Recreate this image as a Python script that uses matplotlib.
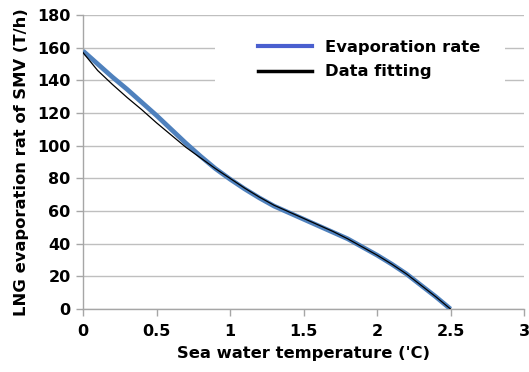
import matplotlib
matplotlib.use("Agg")
import matplotlib.pyplot as plt
from matplotlib.lines import Line2D
from matplotlib.patches import Rectangle

temperature = [0.0, 0.1, 0.2, 0.3, 0.4, 0.5, 0.6, 0.7, 0.8, 0.9, 1.0, 1.1, 1.2,
               1.3, 1.4, 1.5, 1.6, 1.7, 1.8, 1.9, 2.0, 2.1, 2.2, 2.3, 2.4, 2.5]
evaporation_rate = [158, 150, 142, 134.5, 126.5, 118.5, 110, 101.5, 93.5, 86, 79.5,
                    73.5, 68, 63, 59, 55, 51, 47, 43, 38, 33, 27.5, 21.5, 14.5, 7.5, 0]
data_fitting = [157, 146, 137.5, 129.5, 122, 114, 106.5, 99, 92.5, 86, 80,
                74, 68.5, 63.5, 59.5, 55.5, 51.5, 47.5, 43, 38, 33, 27.5, 21.5, 14.5, 7.5, 0]
x_ticks = [0, 0.5, 1, 1.5, 2, 2.5, 3]
x_tick_labels = ["0", "0.5", "1", "1.5", "2", "2.5", "3"]
y_ticks = [0, 20, 40, 60, 80, 100, 120, 140, 160, 180]

plt.rcParams['font.family'] = ['DejaVu Sans']
fig = plt.figure(figsize=(5.29, 3.72), dpi=100)
ax = fig.add_axes([83/529, 1-309/372, (524-83)/529, (309-15)/372])

ax.plot(temperature, evaporation_rate, color="#4F81BD", lw=3.4, solid_capstyle='butt', zorder=3)
ax.plot(temperature, data_fitting, color="#000000", lw=0.9, zorder=4)

ax.set_xlim(0, 3)
ax.set_ylim(0, 180)
ax.set_xticks(x_ticks)
ax.set_xticklabels(x_tick_labels)
ax.set_yticks(y_ticks)
ax.grid(axis='y', color="#BFBFBF", lw=1)
ax.set_axisbelow(True)
for s in ['top', 'right']:
    ax.spines[s].set_visible(False)
for s in ['left', 'bottom']:
    ax.spines[s].set_color("#A6A6A6")
    ax.spines[s].set_linewidth(1)
ax.tick_params(axis='x', colors="#A6A6A6", length=5, width=1, labelcolor="black",
               labelsize=11.5, pad=6)
ax.tick_params(axis='y', colors="#A6A6A6", length=5, width=1, labelcolor="black",
               labelsize=11.5, pad=4)
for lbl in ax.get_xticklabels() + ax.get_yticklabels():
    lbl.set_fontweight('bold')

ax.set_xlabel("Sea water temperature ('C)", fontsize=11.8, fontweight='bold', labelpad=5)
ax.set_ylabel("LNG evaporation rat of SMV (T/h)", fontsize=11.8, fontweight='bold', labelpad=6)

# white legend-area background (legend frame in the original is wider than its content)
ax.add_patch(Rectangle(((215-83)/441, (309-98)/294), (505-215)/441, (98-30)/294,
                       transform=ax.transAxes, facecolor='white', edgecolor='none',
                       zorder=2))

handles = [Line2D([], [], color="#4A5FCF", lw=3),
           Line2D([], [], color="black", lw=2.5)]
leg = ax.legend(handles, ["Evaporation rate", "Data fitting"], loc='upper left',
                bbox_to_anchor=((251.5-83)/441, (309-33)/294), frameon=True,
                facecolor='white', edgecolor='none', framealpha=1, fancybox=False,
                prop={'weight': 'bold', 'size': 11.8}, handlelength=3.3,
                handletextpad=0.8, labelspacing=0.6, borderpad=0.4, borderaxespad=0)
leg.set_zorder(5)

fig.savefig("out.png", dpi=100)
